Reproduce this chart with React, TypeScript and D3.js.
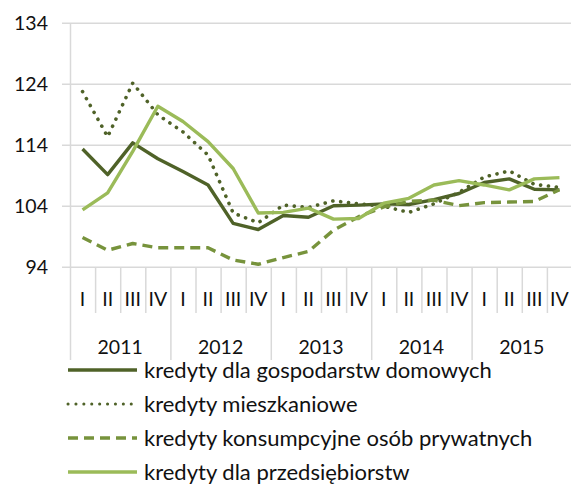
import React from 'react';
import * as d3 from 'd3';

const YEARS = ['2011', '2012', '2013', '2014', '2015'];
const QUARTERS = ['I', 'II', 'III', 'IV'];
const Y_TICKS = [94, 104, 114, 124, 134];

const gospodarstwa = [113.4, 109.2, 114.4, 111.8, 109.7, 107.5, 101.2, 100.2, 102.5, 102.2, 104.1, 104.2, 104.4, 104.3, 105.1, 106.1, 107.9, 108.5, 106.8, 106.7];
const mieszkaniowe = [122.8, 115.4, 124.2, 119.0, 116.2, 112.4, 102.9, 101.3, 104.2, 103.8, 104.9, 104.4, 104.0, 103.0, 104.4, 106.3, 108.8, 109.8, 107.6, 107.1];
const konsumpcyjne = [98.9, 96.8, 97.9, 97.2, 97.2, 97.2, 95.2, 94.5, 95.6, 96.6, 100.1, 102.3, 103.9, 104.8, 105.0, 104.1, 104.6, 104.7, 104.8, 106.7];
const przedsiebiorstwa = [103.4, 106.2, 113.0, 120.4, 117.9, 114.6, 110.2, 102.9, 103.0, 103.7, 101.9, 102.0, 104.5, 105.3, 107.5, 108.2, 107.5, 106.7, 108.5, 108.7];

const SERIES = [
  { name: 'kredyty dla gospodarstw domowych', values: gospodarstwa, color: '#4F6228', dash: null, cap: 'butt' },
  { name: 'kredyty mieszkaniowe', values: mieszkaniowe, color: '#4F6228', dash: '0.1 7.8', cap: 'round' },
  { name: 'kredyty konsumpcyjne osób prywatnych', values: konsumpcyjne, color: '#77933C', dash: '10 6', cap: 'butt' },
  { name: 'kredyty dla przedsiębiorstw', values: przedsiebiorstwa, color: '#9BBB59', dash: null, cap: 'butt' },
];

const W = 571;
const H = 484;
const FONT = 'Lato, "Open Sans", sans-serif';

export default function App() {
  const cats = YEARS.flatMap(y => QUARTERS.map(q => `${y}-${q}`));

  const x = d3.scaleBand<string>().domain(cats).range([70, 572]).padding(0);
  const y = d3.scaleLinear().domain([94, 134]).range([267.3, 23.3]);

  const line = d3.line<number>()
    .x((d, i) => (x(cats[i]) as number) + x.bandwidth() / 2)
    .y(d => y(d));

  const bw = x.bandwidth();
  const legendY = [370, 404, 438, 472];

  return (
    <svg width={W} height={H} style={{ position: 'absolute', left: 0, top: 0 }}>
      <rect width={W} height={H} fill='#fff' />
      {/* grid */}
      {Y_TICKS.map(t => (
        <g key={t}>
          <line x1={62} x2={W} y1={y(t)} y2={y(t)} stroke='#D9D9D9' strokeWidth={1.5} />
          <text x={48} y={y(t)} dy='0.36em' textAnchor='end' fontFamily={FONT} fontSize={19.5} fill='#111'>{t}</text>
        </g>
      ))}
      <line x1={70.5} x2={70.5} y1={y(134)} y2={y(94)} stroke='#D9D9D9' strokeWidth={1.5} />

      {/* category axis */}
      {cats.map((c, i) => (
        <g key={c}>
          <line
            x1={(x(c) as number) + 0.5} x2={(x(c) as number) + 0.5}
            y1={y(94)} y2={i % 4 === 0 ? 360 : 313}
            stroke='#D9D9D9' strokeWidth={1.5}
          />
          <text x={(x(c) as number) + bw / 2} y={299} dy='0.36em' textAnchor='middle' fontFamily={FONT} fontSize={19.5} fill='#111'>
            {QUARTERS[i % 4]}
          </text>
        </g>
      ))}
      {YEARS.map((yr, i) => (
        <text key={yr} x={(x(`${yr}-I`) as number) + bw * 2} y={347} dy='0.36em' textAnchor='middle' fontFamily={FONT} fontSize={19.5} fill='#111'>
          {yr}
        </text>
      ))}

      {/* series */}
      {SERIES.map(s => (
        <path
          key={s.name}
          d={line(s.values) || ''}
          fill='none'
          stroke={s.color}
          strokeWidth={s.dash === '0.1 7.8' ? 3.6 : 3.4}
          strokeDasharray={s.dash || undefined}
          strokeLinecap={s.cap as any}
          strokeLinejoin='round'
        />
      ))}

      {/* legend */}
      {SERIES.map((s, i) => (
        <g key={s.name}>
          <line
            x1={68} x2={137} y1={legendY[i]} y2={legendY[i]}
            stroke={s.color}
            strokeWidth={s.dash === '0.1 7.8' ? 3 : 3.4}
            strokeDasharray={s.dash || undefined}
            strokeLinecap={s.cap as any}
          />
          <text x={144} y={legendY[i]} dy='0.36em' fontFamily={FONT} fontSize={22} fill='#111'>{s.name}</text>
        </g>
      ))}
    </svg>
  );
}
